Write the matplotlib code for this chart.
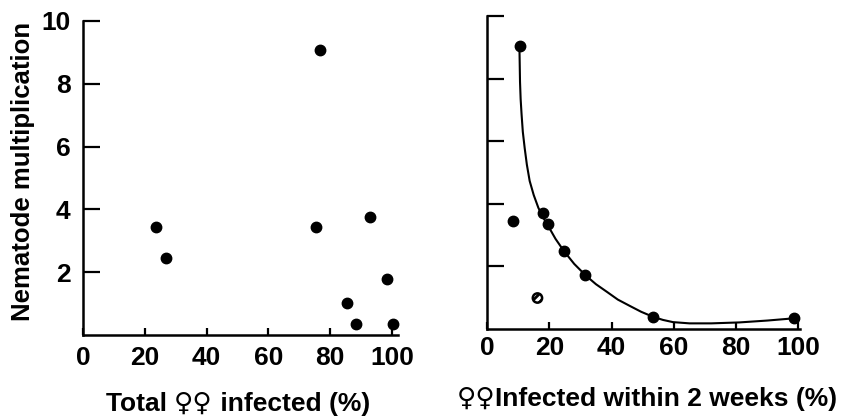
import matplotlib
matplotlib.use("Agg")
import matplotlib.pyplot as plt
from matplotlib.offsetbox import TextArea, HPacker, AnchoredOffsetbox

plt.rcParams['font.family'] = ['Liberation Sans', 'DejaVu Sans']
plt.rcParams['hatch.linewidth'] = 2.0

# Left panel: total females infected (%) vs nematode multiplication
total_infected = [23.5, 26.8, 76.9, 75.4, 92.9, 98.4, 85.4, 88.4, 100.5]
mult_left = [3.43, 2.44, 9.08, 3.43, 3.75, 1.78, 1.02, 0.35, 0.35]

# Right panel: females infected within 2 weeks (%) vs nematode multiplication
early_infected = [10.5, 8.3, 18.1, 19.7, 24.8, 31.4, 53.3, 98.7]
mult_right = [9.05, 3.46, 3.71, 3.35, 2.50, 1.71, 0.38, 0.35]
open_x = [16.2]
open_y = [0.99]

# Fitted curve
curve_x = [10.4, 10.5, 10.6, 10.8, 11.1, 11.5, 12.1, 12.8, 13.7, 15.0, 16.5,
           18.1, 19.6, 22.0, 24.7, 28.0, 31.7, 35.0, 38.6, 42.0, 46.0, 49.5,
           53.3, 56.5, 59.7, 65.0, 72.0, 81.0, 90.0, 98.4]
curve_y = [9.07, 8.50, 7.90, 7.35, 6.86, 6.30, 5.78, 5.25, 4.73, 4.28, 3.87,
           3.55, 3.30, 2.88, 2.49, 2.08, 1.71, 1.43, 1.18, 0.94, 0.73, 0.55,
           0.39, 0.29, 0.22, 0.18, 0.18, 0.21, 0.27, 0.34]

x_ticks = [0, 20, 40, 60, 80, 100]
y_ticks_left = [2, 4, 6, 8, 10]
y_ticks_right = [2, 4, 6, 8, 10]

fig = plt.figure(figsize=(8.44, 4.16), dpi=100)
ax1 = fig.add_axes([83/844, 1-335/416, (398-83)/844, (335-21)/416])
ax2 = fig.add_axes([487/844, 1-329/416, (800-487)/844, (329-16)/416])

TICK_FS = 19

for ax in (ax1, ax2):
    ax.spines['top'].set_visible(False)
    ax.spines['right'].set_visible(False)
    for s in ('left', 'bottom'):
        ax.spines[s].set_linewidth(1.8)
        ax.spines[s].set_color('black')
    ax.tick_params(axis='y', direction='in', length=12, width=1.6, pad=9,
                   labelsize=TICK_FS)
    ax.tick_params(axis='x', direction='in', length=5, width=1.6, pad=8,
                   labelsize=TICK_FS)
    ax.set_xticks(x_ticks)
ax2.tick_params(axis='x', pad=5)

# Left
ax1.plot(total_infected, mult_left, 'o', color='black', markersize=7.5, clip_on=False)
ax1.set_xlim(0, 102)
ax1.set_ylim(0, 10)
ax1.set_yticks(y_ticks_left)
ax1.set_ylabel('Nematode multiplication', fontsize=18.5, fontweight='bold',
               va='center', ha='center')
ax1.yaxis.set_label_coords(-(83 - 23) / 315, (335 - 171) / 314)

# Right
ax2.plot(curve_x, curve_y, '-', color='black', linewidth=1.5, clip_on=False)
ax2.plot(early_infected, mult_right, 'o', color='black', markersize=7.5, clip_on=False)
ax2.scatter(open_x, open_y, s=45, facecolor='white', edgecolor='black',
            linewidth=1.8, hatch='////', zorder=3)
ax2.set_xlim(0, 100.5)
ax2.set_ylim(0, 10)
ax2.set_yticks(y_ticks_right)
ax2.set_yticklabels([])

for ax in (ax1, ax2):
    for lab in ax.get_xticklabels() + ax.get_yticklabels():
        lab.set_fontweight('bold')


def mixed_label(parts, xc, yc):
    boxes = []
    for txt, fam in parts:
        boxes.append(TextArea(txt, textprops=dict(fontsize=19, fontweight='bold',
                                                  family=fam, color='black')))
    pack = HPacker(children=boxes, align='baseline', pad=0, sep=0)
    anc = AnchoredOffsetbox(loc='center', child=pack, pad=0, borderpad=0,
                            frameon=False, bbox_to_anchor=(xc / 844, 1 - yc / 416),
                            bbox_transform=fig.transFigure)
    fig.add_artist(anc)


mixed_label([('Total ', 'Liberation Sans'), ('\u2640\u2640', 'DejaVu Sans'),
             (' infected (%)', 'Liberation Sans')], 238, 404)
mixed_label([('\u2640\u2640', 'DejaVu Sans'),
             ('Infected within 2 weeks (%)', 'Liberation Sans')], 647, 399)

fig.savefig('out.png', dpi=100)
